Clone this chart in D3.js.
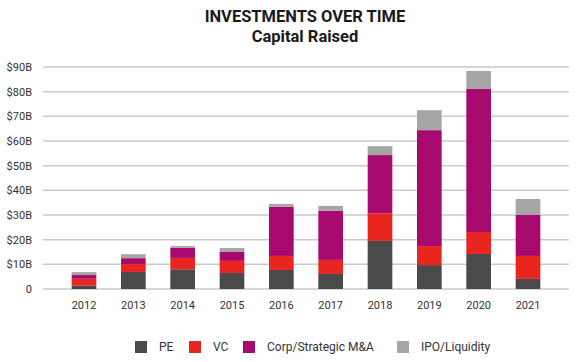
<!DOCTYPE html>
<html>
<head>
<meta charset="utf-8">
<script src="https://cdn.jsdelivr.net/npm/d3@7"></script>
<style>
  body { margin: 0; background: #fff; }
  text { font-family: Roboto, "Open Sans", sans-serif; fill: #333; }
</style>
</head>
<body>
<svg id="chart" width="576" height="362"></svg>
<script>
var years = ["2012", "2013", "2014", "2015", "2016", "2017", "2018", "2019", "2020", "2021"];
var pe    = [1.35, 6.9, 8.0, 6.5, 7.7, 6.1, 19.5, 9.7, 14.2, 4.1];
var vc    = [2.8, 3.2, 4.6, 4.9, 5.7, 5.7, 11.2, 7.7, 8.9, 9.3];
var corp  = [1.5, 2.4, 4.1, 3.6, 19.9, 19.9, 23.6, 47.0, 58.0, 16.6];
var ipo   = [1.2, 1.6, 0.7, 1.6, 1.2, 2.0, 3.6, 8.1, 7.3, 6.5];
var yTicks = [0, 10, 20, 30, 40, 50, 60, 70, 80, 90];
var seriesNames = ["PE", "VC", "Corp/Strategic M&A", "IPO/Liquidity"];
var colors = ["#4a4a4a", "#e8251f", "#a8096f", "#a6a6a7"];

var svg = d3.select("#chart");

var data = years.map(function(y, i) {
  return { year: y, "PE": pe[i], "VC": vc[i], "Corp/Strategic M&A": corp[i], "IPO/Liquidity": ipo[i] };
});

var x = d3.scaleBand().domain(years).range([47, 565]).padding(0.5);
var y = d3.scaleLinear().domain([0, 90]).range([289, 67]);
var color = d3.scaleOrdinal().domain(seriesNames).range(colors);

// grid
svg.append("g").selectAll("line")
  .data(yTicks)
  .enter().append("line")
  .attr("x1", 43).attr("x2", 569)
  .attr("y1", function(d) { return y(d); })
  .attr("y2", function(d) { return y(d); })
  .attr("stroke", "#c9c9c9")
  .attr("stroke-width", 1.5);

// y labels
svg.append("g").selectAll("text")
  .data(yTicks)
  .enter().append("text")
  .attr("x", 32)
  .attr("y", function(d) { return y(d); })
  .attr("dy", "0.35em")
  .attr("text-anchor", "end")
  .style("font-size", "11px")
  .text(function(d) { return d === 0 ? "0" : "$" + d + "B"; });

// bars
var stack = d3.stack().keys(seriesNames)(data);
svg.append("g").selectAll("g")
  .data(stack)
  .enter().append("g")
  .attr("fill", function(d) { return color(d.key); })
  .selectAll("rect")
  .data(function(d) { return d; })
  .enter().append("rect")
  .attr("x", function(d) { return x(d.data.year); })
  .attr("width", x.bandwidth())
  .attr("y", function(d) { return y(d[1]); })
  .attr("height", function(d) { return y(d[0]) - y(d[1]); });

// x labels
svg.append("g").selectAll("text")
  .data(years)
  .enter().append("text")
  .attr("x", function(d) { return x(d) + x.bandwidth() / 2; })
  .attr("y", 309)
  .attr("text-anchor", "middle")
  .style("font-size", "11px")
  .text(function(d) { return d; });

// title
svg.append("text")
  .attr("x", 305).attr("y", 22)
  .attr("text-anchor", "middle")
  .style("font-size", "16.5px").style("font-weight", "bold").style("fill", "#1a1a1a")
  .text("INVESTMENTS OVER TIME");
svg.append("text")
  .attr("x", 305).attr("y", 42)
  .attr("text-anchor", "middle")
  .style("font-size", "16.5px").style("font-weight", "bold").style("fill", "#1a1a1a")
  .text("Capital Raised");

// legend
var legendX = [135, 189, 243, 397];
var legend = svg.append("g").selectAll("g")
  .data(seriesNames)
  .enter().append("g")
  .attr("transform", function(d, i) { return "translate(" + legendX[i] + ",341)"; });
legend.append("rect")
  .attr("width", 12).attr("height", 12)
  .attr("fill", function(d) { return color(d); });
legend.append("text")
  .attr("x", 24).attr("y", 6)
  .attr("dy", "0.35em")
  .style("font-size", "12px")
  .text(function(d) { return d; });
</script>
</body>
</html>
